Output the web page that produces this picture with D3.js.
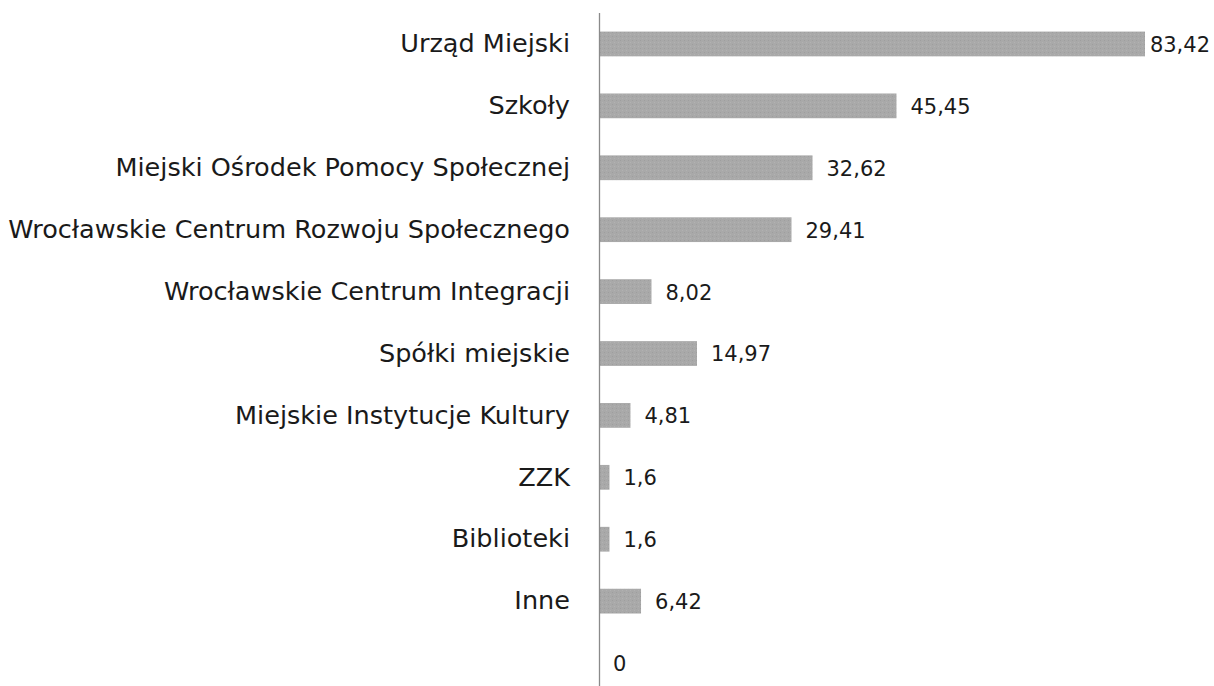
<!DOCTYPE html>
<html>
<head>
<meta charset="utf-8">
<script src="https://cdn.jsdelivr.net/npm/d3@7"></script>
<style>
  html, body { margin: 0; padding: 0; background: #fff; }
  svg { display: block; }
  .cat { font-family: "DejaVu Sans", sans-serif; fill: #1a1a1a; }
  .val { font-family: "DejaVu Sans", sans-serif; fill: #1a1a1a; }
</style>
</head>
<body>
<svg id="chart" width="1214" height="686"></svg>
<script>
const categories = [
  'Urząd Miejski',
  'Szkoły',
  'Miejski Ośrodek Pomocy Społecznej',
  'Wrocławskie Centrum Rozwoju Społecznego',
  'Wrocławskie Centrum Integracji',
  'Spółki miejskie',
  'Miejskie Instytucje Kultury',
  'ZZK',
  'Biblioteki',
  'Inne',
  ''
];
const values = [83.42, 45.45, 32.62, 29.41, 8.02, 14.97, 4.81, 1.6, 1.6, 6.42, 0];
const valueLabels = ['83,42', '45,45', '32,62', '29,41', '8,02', '14,97', '4,81', '1,6', '1,6', '6,42', '0'];

const W = 1214, H = 686;
const axisX = 599;
const svg = d3.select('#chart');

// dotted grey fill like the original
const defs = svg.append('defs');
const pat = defs.append('pattern')
  .attr('id', 'dots')
  .attr('width', 4).attr('height', 4)
  .attr('patternUnits', 'userSpaceOnUse');
pat.append('rect').attr('width', 4).attr('height', 4).attr('fill', '#a9a9a9');
pat.append('rect').attr('x', 0).attr('y', 0).attr('width', 1).attr('height', 1).attr('fill', '#9e9e9e');
pat.append('rect').attr('x', 2).attr('y', 2).attr('width', 1).attr('height', 1).attr('fill', '#b2b2b2');

const x = d3.scaleLinear().domain([0, 83.42]).range([axisX, 1145]);
const y = d3.scaleBand().domain(d3.range(categories.length)).range([13, 694]).paddingInner(0.6).paddingOuter(0.3);

svg.append('g').selectAll('rect')
  .data(values)
  .join('rect')
  .attr('x', axisX)
  .attr('y', (d, i) => y(i))
  .attr('width', d => x(d) - axisX)
  .attr('height', y.bandwidth())
  .attr('fill', 'url(#dots)');

// category axis
const yAxis = d3.axisLeft(y).tickSize(0).tickPadding(29).tickFormat(i => categories[i]);
const ag = svg.append('g').attr('transform', `translate(${axisX},0)`).call(yAxis);
ag.select('.domain').attr('stroke', '#8a8a8a').attr('stroke-width', 1.3).attr('d', `M0.5,13V${H}`);
ag.selectAll('text').attr('class', 'cat').attr('font-size', 22).attr('fill', '#1a1a1a');

// fit longest label to the original width (~562px)
let maxW = 0;
ag.selectAll('text').each(function () { maxW = Math.max(maxW, this.getComputedTextLength()); });
const fs = 22 * 562 / maxW;
ag.selectAll('text').attr('font-size', Math.min(fs, 26));

const vl = svg.append('g').selectAll('text')
  .data(values)
  .join('text')
  .attr('class', 'val')
  .attr('font-size', 21)
  .attr('dy', '0.38em')
  .attr('y', (d, i) => y(i) + y.bandwidth() / 2)
  .attr('x', d => x(d) + 14)
  .text((d, i) => valueLabels[i]);

vl.each(function () {
  const t = d3.select(this);
  const w = this.getComputedTextLength();
  const xx = +t.attr('x');
  if (xx + w > W - 4) t.attr('x', W - 4 - w);
});
</script>
</body>
</html>
